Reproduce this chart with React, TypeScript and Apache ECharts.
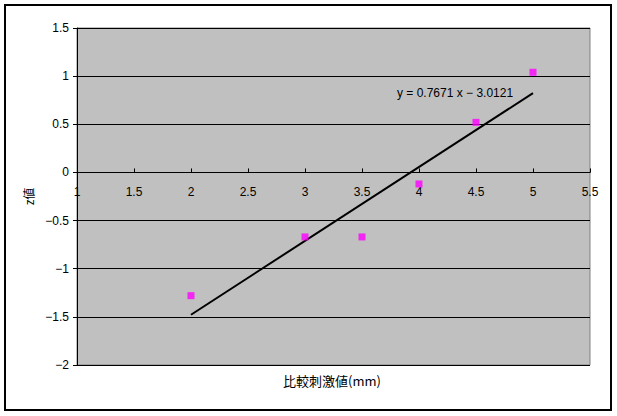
import React, { useEffect, useRef } from "react";
import * as echarts from "echarts";

const xValues = [2, 3, 3.5, 4, 4.5, 5];
const zValues = [-1.28, -0.67, -0.67, -0.12, 0.52, 1.04];
const trendSlope = 0.7671;
const trendIntercept = -3.0121;
const trendRange = [2, 5];
const trendLabel = "y = 0.7671 x − 3.0121";
const xTitle = "比較刺激値(mm)";
const yTitle = "z値";

const Y_MIN = -2;
const Y_MAX = 1.5;
const GRID_TOP = 28;
const GRID_H = 337;

export default function App() {
  const ref = useRef<HTMLDivElement>(null);
  useEffect(() => {
    if (!ref.current) return;
    const chart = echarts.init(ref.current, null, { renderer: "svg" });
    const numFont = "'Liberation Sans', Arial, sans-serif";
    const jpFont = "'Noto Sans CJK JP', sans-serif";
    // place x axis where y = 0 (Excel-style crossing)
    const zeroOffset = -(GRID_H * (0 - Y_MIN)) / (Y_MAX - Y_MIN);
    chart.setOption({
      animation: false,
      backgroundColor: "#ffffff",
      grid: {
        left: 77,
        top: GRID_TOP,
        width: 513,
        height: GRID_H,
        show: true,
        backgroundColor: "#C0C0C0",
        borderColor: "#808080",
        borderWidth: 1,
      },
      xAxis: {
        type: "value",
        min: 1,
        max: 5.5,
        interval: 0.5,
        position: "bottom",
        offset: zeroOffset,
        axisLine: { onZero: false, lineStyle: { color: "#000", width: 1 } },
        axisTick: { show: true, inside: true, length: 4, lineStyle: { color: "#000" } },
        axisLabel: { color: "#000", fontSize: 12, fontFamily: numFont, margin: 14 },
        splitLine: { show: false },
      },
      yAxis: {
        type: "value",
        min: Y_MIN,
        max: Y_MAX,
        interval: 0.5,
        name: yTitle,
        nameLocation: "middle",
        nameGap: 42,
        nameRotate: 90,
        nameTextStyle: { color: "#000", fontSize: 12, fontFamily: jpFont },
        axisLine: { show: true, onZero: false, lineStyle: { color: "#000", width: 1 } },
        axisTick: { show: true, inside: false, length: 4, lineStyle: { color: "#000" } },
        axisLabel: {
          color: "#000",
          fontSize: 12,
          fontFamily: numFont,
          margin: 8,
          formatter: (v: number) => String(v).replace("-", "−"),
        },
        splitLine: { show: true, lineStyle: { color: "#000", width: 1 } },
      },
      graphic: [
        {
          type: "text",
          left: 397,
          top: 87,
          style: { text: trendLabel, fill: "#000", font: `12px ${numFont}` },
        },
        {
          type: "text",
          left: 283,
          top: 374,
          style: { text: xTitle, fill: "#000", font: `13px ${jpFont}` },
        },
        {
          type: "rect",
          shape: { x: 5, y: 5, width: 606, height: 405 },
          style: { fill: "none", stroke: "#000", lineWidth: 2 },
          silent: true,
        },
      ],
      series: [
        {
          type: "line",
          data: trendRange.map((x) => [x, trendSlope * x + trendIntercept]),
          showSymbol: false,
          lineStyle: { color: "#000", width: 2 },
          z: 3,
        },
        {
          type: "scatter",
          data: xValues.map((x, i) => [x, zValues[i]]),
          symbol: "rect",
          symbolSize: 7,
          itemStyle: { color: "#FF00FF" },
          z: 4,
        },
      ],
    });
    return () => chart.dispose();
  }, []);
  return (
    <div
      ref={ref}
      style={{ position: "absolute", left: 0, top: 0, width: 617, height: 416 }}
    />
  );
}
